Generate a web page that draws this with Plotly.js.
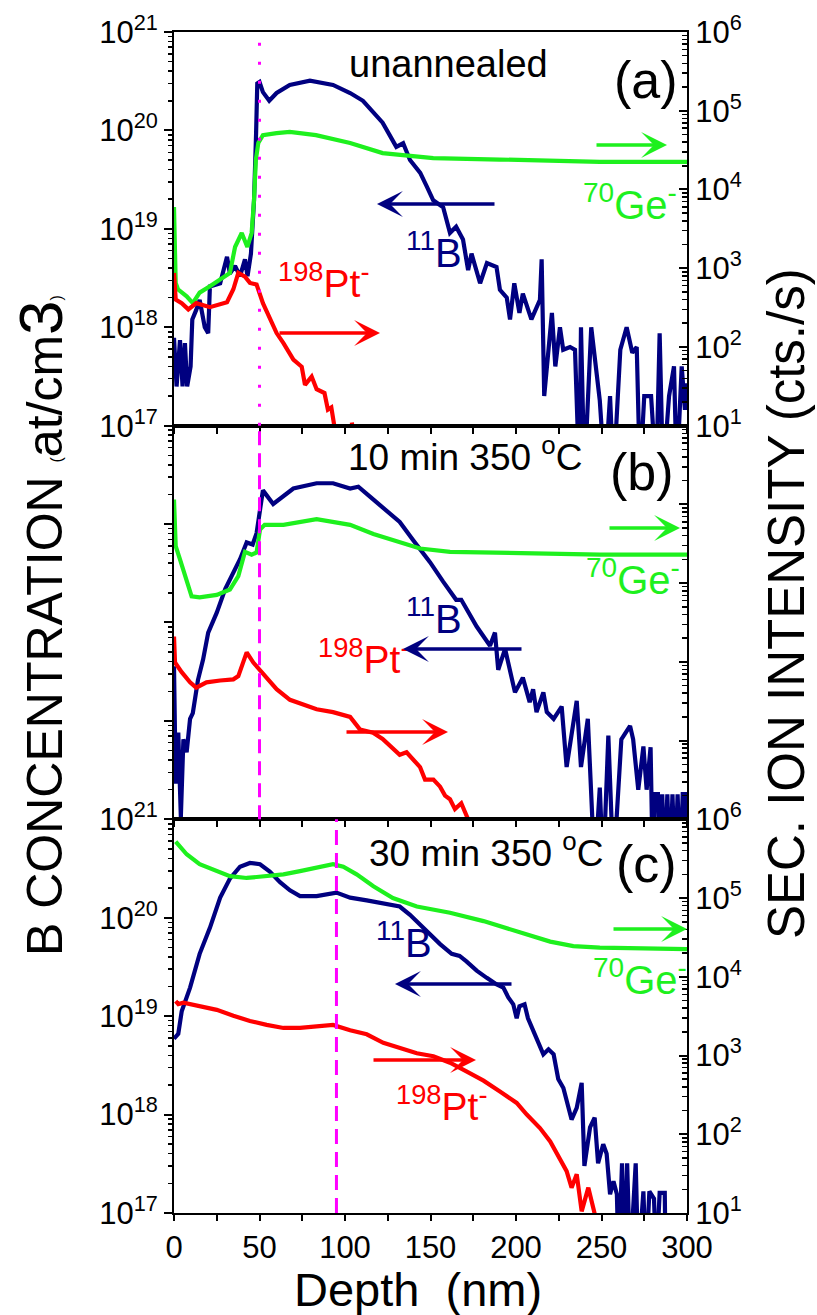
<!DOCTYPE html>
<html>
<head>
<meta charset="utf-8">
<script src="https://cdn.plot.ly/plotly-3.0.1.min.js"></script>
<style>html,body{margin:0;padding:0;background:#fff;}#chart{width:817px;height:1315px;}</style>
</head>
<body>
<div id="chart"></div>
<script>
// ---------------- DATA ----------------
// Panel (a) unannealed
const depthB_a = [0,1.5,3.5,5,6.4,7.7,9.7,10.7,13,15,18,20,21,27,31,32.7,35.7,38.6,41.5,43,45,46.8,48,48.7,50,52,55.7,60,67.7,79.5,93,103,110.5,122,130,134,138,144,147.8,151.6,157.4,161.4,165,169,172,174,179,183,188.6,190.6,194.6,196.5,199,202,204,209,214,215,216.5,221,223,225.7,227.6,231.6,234.5,237,238,240,244,249,252,255,257,261,264.7,268,270.6,272.5,275,279,282,284,286,289.5,292.4,294,296.9,298.8,300];
const concB_a  = [7.8e17,2.5e17,7.4e17,2.5e17,6.9e17,2.5e17,4.0e17,1.2e18,1.5e18,1.9e18,1.0e18,8.7e17,2.6e18,2.8e18,5.2e18,3.5e18,4.2e18,3.3e18,4.9e18,3.3e18,5.6e18,1.95e19,9.3e19,3.0e20,3.1e20,2.45e20,2.0e20,2.4e20,2.9e20,3.2e20,2.9e20,2.4e20,2.0e20,1.2e20,6.8e19,7.4e19,5.0e19,3.7e19,2.7e19,1.95e19,1.66e19,9.1e18,1.05e19,7.8e18,3.8e18,5.6e18,2.8e18,4.5e18,4.1e18,2.4e18,2.0e18,1.2e18,2.8e18,1.4e18,2.2e18,1.2e18,1.9e18,4.9e18,2.0e17,1.4e18,4.0e17,1.0e18,5.9e17,6.3e17,5.9e17,3e16,1.0e18,3e16,1.0e18,1.8e17,3e16,2.0e17,3e16,5.9e17,1.0e18,5.5e17,6.3e17,3e16,2.0e17,2.0e17,3e16,8.7e17,3e16,2.0e17,4.0e17,3e16,4.0e17,1.45e17,2.7e17];
const depthGe_a = [0,1,2.3,7.4,11,15,21,27,32.7,35.7,39.6,42.9,45.4,46.8,47.9,49.3,52,60,67.7,83,103,122,132,142,151.6,190.6,249,300];
const ionGe_a   = [6.0e3,6.5e2,5.4e2,4.4e2,3.6e2,4.9e2,5.9e2,7.1e2,8.7e2,1.86e3,2.8e3,1.86e3,2.8e3,7.4e3,2.4e4,3.9e4,4.9e4,5.2e4,5.4e4,4.9e4,3.9e4,2.9e4,2.75e4,2.6e4,2.5e4,2.4e4,2.24e4,2.24e4];
const depthPt_a = [0,1,4.5,8.4,13,21,31,34.7,37.6,41.5,44.4,48.3,52,56,60,64,69.8,74.7,76.6,80.5,83.4,88,90,92,94,96,null,104,106];
const ionPt_a   = [8.7e2,4.0e2,3.6e2,3.0e2,3.6e2,3.2e2,3.7e2,5.4e2,8.7e2,7.8e2,6.5e2,6.2e2,3.6e2,2.4e2,1.5e2,1.12e2,69,56,33,42,29,26,16,17,9.8,5,null,11,5];

// Panel (b) 10 min 350 C
const depthB_b = [0,1,2.5,4,5.5,7.4,9.4,11,14,17,20,25,30,34.7,38.6,42.5,46,48.3,50,52,58,64,69.8,83.4,93,103,107.8,114.6,124,132,140,149.7,157.4,165,168,177,184.8,187.7,189.6,193.6,199.4,204,208,210,212,216,218,222,226.7,229.6,235.5,238,242,246,249,251,254,257,261.6,266.7,268.5,271.5,274.5,276.4,278.7,280,281,283,284,285.5,287,288.5,290,291.5,293,294.5,296,297.5,299,300];
const concB_b  = [3.6e18,2.3e17,7.6e17,1.05e17,6.5e17,4.8e17,1.05e18,1.2e18,2.6e18,4.2e18,7.9e18,1.26e19,2.2e19,3.2e19,4.4e19,6.5e19,6.2e19,8.1e19,1.3e20,2.2e20,1.6e20,1.9e20,2.3e20,2.6e20,2.6e20,2.3e20,2.4e20,1.9e20,1.4e20,1.05e20,6.8e19,4.1e19,2.6e19,1.7e19,1.7e19,9.1e18,5.8e18,7.9e18,3.3e18,5.4e18,1.95e18,2.75e18,1.55e18,2.1e18,1.23e18,1.95e18,1.23e18,1.05e18,1.4e18,3.4e17,1.6e18,3.4e17,1.05e18,3e16,2.1e17,3e16,7.1e17,3e16,6.5e17,8.9e17,6.5e17,2.0e17,5.5e17,2.0e17,5.4e17,3e16,1.8e17,1.8e17,3e16,1.8e17,3e16,1.8e17,3e16,1.8e17,3e16,1.8e17,3e16,1.8e17,1.8e17,3e16];
const depthGe_b = [0,1,3.5,7.4,10.3,15,25,32.7,37.6,41.5,45.4,48.3,50.3,53,64,83.4,103,116.6,132,143.9,161.4,190.6,249,300];
const ionGe_b   = [1.15e5,2.95e4,2.0e4,1.12e4,6.8e3,6.6e3,7.1e3,8.3e3,1.23e4,2.5e4,2.3e4,2.45e4,4.8e4,5.5e4,5.5e4,6.5e4,5.5e4,4.2e4,3.3e4,2.75e4,2.5e4,2.45e4,2.3e4,2.3e4];
const depthPt_b = [0,0.6,4.5,9.4,13,19,27,34.7,37.6,42.5,46.4,51.3,54.2,60,67.8,75.6,83.4,93,103,108.8,116.4,122,132,136,140,143.9,146.8,151.7,155.6,158.5,161.4,164.3,168,172,174];
const ionPt_b   = [2.1e3,9.8e2,7.4e2,5.5e2,4.7e2,5.5e2,5.8e2,6.0e2,6.6e2,1.32e3,9.8e2,7.4e2,6.0e2,4.5e2,3.3e2,2.9e2,2.5e2,2.3e2,2.0e2,1.38e2,1.26e2,1.05e2,66,71,58,46,32,32,26,20,18,13.5,16,10,6];

// Panel (c) 30 min 350 C
const depthB_c = [0,2.5,4.5,9.4,15,21,27,32.7,38.6,44.4,50.3,56,62,67.8,73.7,83.4,95,103,112.7,122.4,132,138,147.8,155.6,162.4,167,171,177,182.9,188.7,192.6,195.5,198.4,200.4,202,205,207,210,214,216,219,222,224.7,227.7,232.5,235.5,238.4,240,243.3,246,248,251,253,255,257,259,260,262,263,265,266.7,270,271.5,274.5,276,278,280.7,282,284,287,287.5];
const concB_c  = [5.9e18,6.6e18,1.12e19,1.95e19,4.3e19,7.9e19,1.6e20,2.5e20,3.3e20,3.6e20,3.5e20,2.95e20,2.3e20,1.9e20,1.66e20,1.66e20,1.8e20,1.6e20,1.5e20,1.4e20,1.3e20,1.07e20,7.2e19,5.4e19,4.3e19,4.1e19,3.6e19,2.9e19,2.45e19,2.1e19,1.95e19,1.55e19,1.32e19,9.5e18,1.26e19,1.32e19,9.5e18,7.1e18,5.1e18,4.1e18,4.6e18,4.1e18,2.3e18,1.86e18,8.9e17,1.17e18,2.1e18,3.0e17,7.4e17,9.3e17,3.2e17,5.0e17,4.0e17,1.55e17,2.1e17,1.55e17,3e16,3.2e17,3e16,3.2e17,3e16,3.2e17,3e16,1.66e17,3e16,1.66e17,1.4e17,3e16,1.6e17,1.6e17,3e16];
const depthGe_c = [1,7.4,15,25,32.7,42.5,54.2,64,73.7,85.4,93,99,106.8,116.6,128,142,161.4,181,200.4,220,233.5,249,300];
const ionGe_c   = [5.2e5,3.6e5,2.7e5,2.2e5,1.9e5,1.8e5,1.9e5,2.0e5,2.2e5,2.5e5,2.7e5,2.5e5,2.0e5,1.41e5,1.0e5,7.8e4,6.5e4,5.1e4,3.8e4,2.8e4,2.45e4,2.35e4,2.24e4];
const depthPt_c = [1,2.5,5.5,15,25,34.7,44.4,54.2,64,73.7,83.4,93,103,112.7,122.4,132,142,151.7,161.4,171,181,190.6,200.4,206.3,214,220,225.7,229.6,232.5,235.5,238.4,242.3,247,250];
const ionPt_c   = [4.9e3,4.5e3,4.7e3,4.3e3,3.8e3,3.2e3,2.75e3,2.45e3,2.24e3,2.24e3,2.35e3,2.45e3,2.1e3,1.86e3,1.45e3,1.26e3,1.07e3,9.8e2,8.1e2,6.3e2,4.8e2,3.5e2,2.5e2,1.78e2,1.2e2,81,50,34,21,31,10.5,21,8,3];

// Vertical reference depths (nm) for panels a, b, c
const markerDepths = [50, 50, 95];

// Axis tick values / labels
const depthTicks = [0,50,100,150,200,250,300];
const depthMinorTicks = [25,75,125,175,225,275];
const concTicks = [1e17,1e18,1e19,1e20,1e21];
const concTickText = ['10<sup>17</sup>','10<sup>18</sup>','10<sup>19</sup>','10<sup>20</sup>','10<sup>21</sup>'];
const ionTicks = [1e1,1e2,1e3,1e4,1e5,1e6];
const ionTickText = ['10<sup>1</sup>','10<sup>2</sup>','10<sup>3</sup>','10<sup>4</sup>','10<sup>5</sup>','10<sup>6</sup>'];

// ---------------- STYLE ----------------
const NAVY = '#000080', GREEN = '#1ef01e', RED = '#ff0000', MAG = '#ff00ff';
const FONT = 'Arial, "Liberation Sans", sans-serif';

function minorLog(lo, hi) { // minor log ticks between decades
  const v = [];
  for (let e = lo; e < hi; e++) for (let m = 2; m <= 9; m++) v.push(m * Math.pow(10, e));
  return v;
}
const concMinor = minorLog(17, 21);
const ionMinor = minorLog(1, 6);

function line(x, y, xa, ya, color) {
  return {x: x, y: y, xaxis: xa, yaxis: ya, mode: 'lines', type: 'scatter',
          line: {color: color, width: 4.2}, connectgaps: false, hoverinfo: 'skip'};
}

const traces = [
  line(depthB_a, concB_a, 'x', 'y', NAVY),
  line(depthGe_a, ionGe_a, 'x', 'y2', GREEN),
  line(depthPt_a, ionPt_a, 'x', 'y2', RED),
  line(depthB_b, concB_b, 'x2', 'y3', NAVY),
  line(depthGe_b, ionGe_b, 'x2', 'y4', GREEN),
  line(depthPt_b, ionPt_b, 'x2', 'y4', RED),
  line(depthB_c, concB_c, 'x3', 'y5', NAVY),
  line(depthGe_c, ionGe_c, 'x3', 'y6', GREEN),
  line(depthPt_c, ionPt_c, 'x3', 'y6', RED)
];

function xAxis(anchor, labels) {
  return {anchor: anchor, domain: [0, 1], range: [0, 300], showgrid: false, zeroline: false,
    showline: true, linewidth: 2, linecolor: '#000', mirror: true,
    tickmode: 'array', tickvals: depthTicks, ticks: 'outside', ticklen: 6, tickwidth: 2, tickcolor: '#000',
    minor: {tickmode: 'array', tickvals: depthMinorTicks, ticks: 'outside', ticklen: 6, tickwidth: 2, tickcolor: '#000'},
    showticklabels: labels, tickfont: {size: 31, color: '#000', family: FONT}};
}
function leftAxis(anchor, domain, labels) {
  return {anchor: anchor, domain: domain, type: 'log', range: [17, 21], side: 'left',
    showgrid: false, zeroline: false, showline: true, linewidth: 2, linecolor: '#000',
    tickmode: 'array', tickvals: concTicks, ticktext: concTickText,
    ticks: 'outside', ticklen: 8, tickwidth: 2, tickcolor: '#000',
    minor: {tickmode: 'array', tickvals: concMinor, ticks: 'outside', ticklen: 4, tickwidth: 1.5, tickcolor: '#000'},
    showticklabels: labels, tickfont: {size: 31, color: '#000', family: FONT}};
}
function rightAxis(anchor, over, domain, labels) {
  return {anchor: anchor, overlaying: over, domain: domain, type: 'log', range: [1, 6], side: 'right',
    showgrid: false, zeroline: false, showline: true, linewidth: 2, linecolor: '#000',
    tickmode: 'array', tickvals: ionTicks, ticktext: ionTickText,
    ticks: 'inside', ticklen: 8, tickwidth: 2, tickcolor: '#000',
    minor: {tickmode: 'array', tickvals: ionMinor, ticks: 'inside', ticklen: 5, tickwidth: 1.5, tickcolor: '#000'},
    showticklabels: labels, tickfont: {size: 31, color: '#000', family: FONT}};
}

// pixel -> paper helpers for layout placement (plot area: x 174..687, y 32..1213)
const L = 174, R = 687, T = 32, B = 1213;
const px = p => (p - L) / (R - L);
const py = p => (B - p) / (B - T);

function txt(xp, yp, text, size, color, xanchor) {
  return {xref: 'paper', yref: 'paper', x: px(xp), y: py(yp), text: text, showarrow: false,
    xanchor: xanchor || 'left', yanchor: 'middle', font: {size: size, color: color, family: FONT}};
}
function arrow(tail, head, yrow, color) {
  return {xref: 'paper', yref: 'paper', x: px(head), y: py(yrow), ax: tail - head, ay: 0,
    axref: 'pixel', ayref: 'pixel', text: '', showarrow: true, arrowhead: 3, arrowsize: 1.2,
    arrowwidth: 3.6, arrowcolor: color, standoff: 0, startstandoff: 0};
}

const annotations = [
  // titles
  {xref: 'paper', yref: 'paper', x: px(41), y: py(626), textangle: -90, showarrow: false,
   text: 'B CONCENTRATION <span style="font-size:16px">(</span>at/cm<span style="font-size:62px">3</span><span style="font-size:16px">)</span>',
   font: {size: 50, color: '#000', family: FONT}, xanchor: 'center', yanchor: 'middle'},
  {xref: 'paper', yref: 'paper', x: px(786), y: py(604), textangle: -90, showarrow: false,
   text: 'SEC. ION INTENSITY (cts./s)', font: {size: 51, color: '#000', family: FONT}, xanchor: 'center', yanchor: 'middle'},
  {xref: 'paper', yref: 'paper', x: px(418), y: py(1289), showarrow: false,
   text: 'Depth \u00a0(nm)', font: {size: 47, color: '#000', family: FONT}, xanchor: 'center', yanchor: 'middle'},
  // panel (a)
  txt(448, 64, 'unannealed', 38, '#000', 'center'),
  txt(646, 80, '(a)', 52, '#000', 'center'),
  txt(276, 280, '<sup>198</sup>Pt<sup>-</sup>', 39, RED),
  txt(404, 250, '<sup>11</sup>B', 40, NAVY),
  txt(581, 202, '<sup>70</sup>Ge<sup>-</sup>', 40, GREEN),
  arrow(496, 377, 204, NAVY), arrow(278, 380, 333, RED), arrow(595, 667, 145, GREEN),
  // panel (b)
  txt(465, 455, '10 min 350 <sup>o</sup>C', 37, '#000', 'center'),
  txt(642, 472, '(b)', 52, '#000', 'center'),
  txt(316, 656, '<sup>198</sup>Pt<sup>-</sup>', 39, RED),
  txt(404, 616, '<sup>11</sup>B', 40, NAVY),
  txt(584, 577, '<sup>70</sup>Ge<sup>-</sup>', 40, GREEN),
  arrow(523, 403, 649, NAVY), arrow(345, 448, 732, RED), arrow(608, 680, 528, GREEN),
  // panel (c)
  txt(486, 850, '30 min 350 <sup>o</sup>C', 37, '#000', 'center'),
  txt(646, 864, '(c)', 52, '#000', 'center'),
  txt(394, 1103, '<sup>198</sup>Pt<sup>-</sup>', 39, RED),
  txt(374, 940, '<sup>11</sup>B', 40, NAVY),
  txt(591, 977, '<sup>70</sup>Ge<sup>-</sup>', 40, GREEN),
  arrow(513, 395, 984, NAVY), arrow(372, 476, 1060, RED), arrow(612, 687, 929, GREEN)
];

const shapes = [
  {type: 'line', xref: 'x', yref: 'y domain', x0: markerDepths[0], x1: markerDepths[0], y0: 0, y1: 1,
   line: {color: MAG, width: 3, dash: '3px,16px'}},
  {type: 'line', xref: 'x2', yref: 'y3 domain', x0: markerDepths[1], x1: markerDepths[1], y0: 0, y1: 1,
   line: {color: MAG, width: 3, dash: '14px,8px'}},
  {type: 'line', xref: 'x3', yref: 'y5 domain', x0: markerDepths[2], x1: markerDepths[2], y0: 0, y1: 1,
   line: {color: MAG, width: 3, dash: '15px,8px'}}
];

const layout = {
  width: 817, height: 1315,
  margin: {l: L, r: 817 - R, t: T, b: 1315 - B, pad: 0},
  paper_bgcolor: '#fff', plot_bgcolor: '#fff',
  showlegend: false,
  font: {family: FONT, color: '#000'},
  xaxis: xAxis('y', false),
  xaxis2: xAxis('y3', false),
  xaxis3: xAxis('y5', true),
  yaxis: leftAxis('x', [2/3, 1], true),
  yaxis2: rightAxis('x', 'y', [2/3, 1], true),
  yaxis3: leftAxis('x2', [1/3, 2/3], false),
  yaxis4: rightAxis('x2', 'y3', [1/3, 2/3], false),
  yaxis5: leftAxis('x3', [0, 1/3], true),
  yaxis6: rightAxis('x3', 'y5', [0, 1/3], true),
  annotations: annotations,
  shapes: shapes
};

Plotly.newPlot('chart', traces, layout, {staticPlot: true, displayModeBar: false});
</script>
</body>
</html>
